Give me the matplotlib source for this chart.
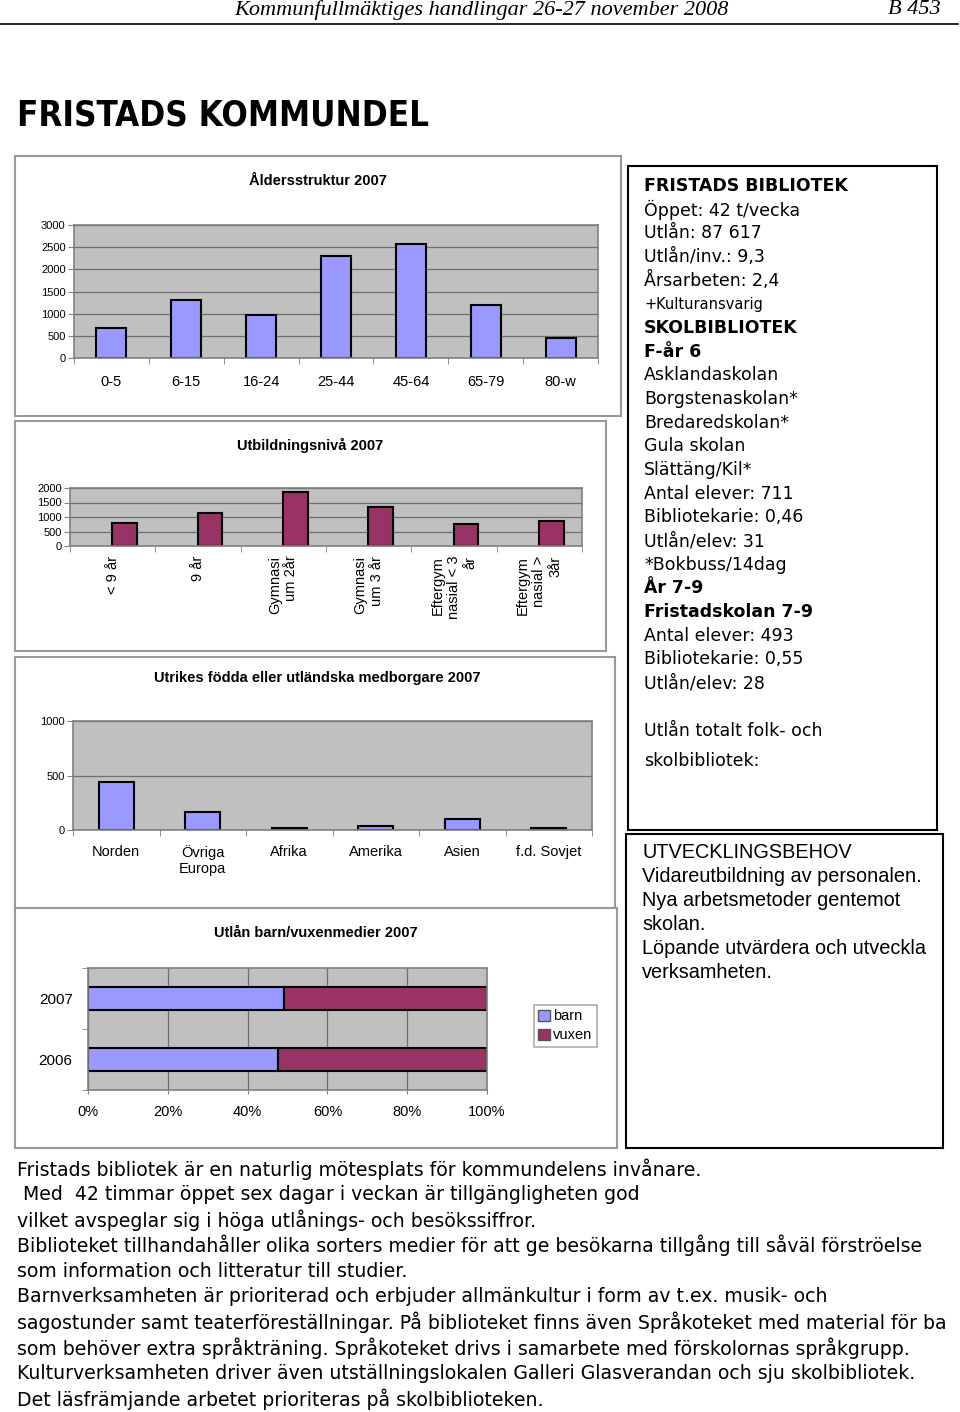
import numpy as np
import matplotlib
matplotlib.use('Agg')
import matplotlib.pyplot as plt
from matplotlib.patches import Rectangle, Patch
from matplotlib.lines import Line2D

plt.rcParams['font.family'] = ['Liberation Sans', 'DejaVu Sans']

# data
age_groups = ['0-5', '6-15', '16-24', '25-44', '45-64', '65-79', '80-w']
age_counts = [685, 1310, 970, 2310, 2580, 1200, 460]

edu_levels = ['< 9 år', '9 år', 'Gymnasi\num 2år', 'Gymnasi\num 3 år',
              'Eftergym\nnasial < 3\når', 'Eftergym\nnasial >\n3år']
edu_counts = [805, 1150, 1850, 1345, 760, 860]

regions = ['Norden', 'Övriga\nEuropa', 'Afrika', 'Amerika', 'Asien', 'f.d. Sovjet']
region_counts = [440, 165, 15, 35, 105, 20]

years = ['2006', '2007']
barn_share = [0.477, 0.492]
vuxen_share = [0.523, 0.508]

info_lines = ['FRISTADS BIBLIOTEK', 'Öppet: 42 t/vecka', 'Utlån: 87 617', 'Utlån/inv.: 9,3',
              'Årsarbeten: 2,4', '+Kulturansvarig', 'SKOLBIBLIOTEK', 'F-år 6', 'Asklandaskolan',
              'Borgstenaskolan*', 'Bredaredskolan*', 'Gula skolan', 'Slättäng/Kil*',
              'Antal elever: 711', 'Bibliotekarie: 0,46', 'Utlån/elev: 31', '*Bokbuss/14dag',
              'År 7-9', 'Fristadskolan 7-9', 'Antal elever: 493', 'Bibliotekarie: 0,55',
              'Utlån/elev: 28']
info_bold = ['FRISTADS BIBLIOTEK', 'SKOLBIBLIOTEK', 'F-år 6', 'År 7-9', 'Fristadskolan 7-9']

needs_lines = ['UTVECKLINGSBEHOV', 'Vidareutbildning av personalen.', 'Nya arbetsmetoder gentemot',
               'skolan.', 'Löpande utvärdera och utveckla', 'verksamheten.']

body_lines = [
    'Fristads bibliotek är en naturlig mötesplats för kommundelens invånare.',
    ' Med  42 timmar öppet sex dagar i veckan är tillgängligheten god',
    'vilket avspeglar sig i höga utlånings- och besökssiffror.',
    'Biblioteket tillhandahåller olika sorters medier för att ge besökarna tillgång till såväl förströelse',
    'som information och litteratur till studier.',
    'Barnverksamheten är prioriterad och erbjuder allmänkultur i form av t.ex. musik- och',
    'sagostunder samt teaterföreställningar. På biblioteket finns även Språkoteket med material för ba',
    'som behöver extra språkträning. Språkoteket drivs i samarbete med förskolornas språkgrupp.',
    'Kulturverksamheten driver även utställningslokalen Galleri Glasverandan och sju skolbibliotek.',
    'Det läsfrämjande arbetet prioriteras på skolbiblioteken.',
]

W, H = 960, 1412
BLUE = '#9999FF'
PURPLE = '#993366'
PLOTBG = '#C0C0C0'
GRID = '#6e6e6e'

fig = plt.figure(figsize=(W / 100, H / 100), dpi=100)


def fx(x):
    return x / W


def fy(y):
    return 1 - y / H


def px_axes(x0, y0, x1, y1):
    return fig.add_axes([fx(x0), fy(y1), (x1 - x0) / W, (y1 - y0) / H])


def box(x0, y0, x1, y1, color='#999999', lw=1.5):
    fig.add_artist(Rectangle((fx(x0), fy(y1)), (x1 - x0) / W, (y1 - y0) / H,
                             transform=fig.transFigure, fill=False, edgecolor=color, lw=lw))


def ftext(x, y, s, **kw):
    fig.text(fx(x), fy(y), s, **kw)


def excel_style(ax):
    ax.set_facecolor(PLOTBG)
    for sp in ax.spines.values():
        sp.set_color('#808080')
        sp.set_linewidth(1.2)
    ax.set_axisbelow(True)


# header
ftext(481, 10, 'Kommunfullmäktiges handlingar 26-27 november 2008', family='Liberation Serif',
      style='italic', fontsize=16, ha='center', va='center')
ftext(941, 10, 'B 453', family='Liberation Serif', style='italic', fontsize=16, ha='right', va='center')
fig.add_artist(Line2D([0, 958 / W], [fy(23.5), fy(23.5)], transform=fig.transFigure, color='black', lw=1.2))

ftext(17, 115, 'FRISTADS KOMMUNDEL', family=['DejaVu Sans'], stretch='condensed',
      weight='heavy', fontsize=25, ha='left', va='center')

# chart 1: age structure
box(15, 156, 621, 416)
ftext(318, 181, 'Åldersstruktur 2007', fontsize=10.5, weight='bold', ha='center', va='center')
ax1 = px_axes(74, 225, 598, 358)
excel_style(ax1)
x = np.arange(len(age_groups))
ax1.bar(x, age_counts, width=0.4, color=BLUE, edgecolor='black', lw=1.5)
ax1.set_xlim(-0.5, len(age_groups) - 0.5)
ax1.set_ylim(0, 3000)
ax1.set_yticks(np.arange(0, 3001, 500))
ax1.yaxis.grid(True, color=GRID, lw=0.9)
ax1.set_xticks(x)
ax1.set_xticklabels(age_groups, fontsize=10.5)
ax1.set_xticks(np.arange(-0.5, len(age_groups), 1), minor=True)
ax1.tick_params(axis='x', which='major', length=0, pad=12)
ax1.tick_params(axis='x', which='minor', length=4, color='#808080')
ax1.tick_params(axis='y', labelsize=8, length=4, color='#808080', pad=2)

# chart 2: education
box(15, 421, 606, 651)
ftext(310, 445, 'Utbildningsnivå 2007', fontsize=10.5, weight='bold', ha='center', va='center')
ax2 = px_axes(70, 488, 582, 546)
excel_style(ax2)
x = np.arange(len(edu_levels))
ax2.bar(x + 0.14, edu_counts, width=0.29, color=PURPLE, edgecolor='black', lw=1.5)
ax2.set_xlim(-0.5, len(edu_levels) - 0.5)
ax2.set_ylim(0, 2000)
ax2.set_yticks(np.arange(0, 2001, 500))
ax2.yaxis.grid(True, color=GRID, lw=0.9)
ax2.set_xticks(x)
ax2.set_xticklabels(edu_levels, fontsize=10.5, rotation=90, multialignment='right')
ax2.set_xticks(np.arange(-0.5, len(edu_levels), 1), minor=True)
ax2.tick_params(axis='x', which='major', length=0, pad=7)
ax2.tick_params(axis='x', which='minor', length=4, color='#808080')
ax2.tick_params(axis='y', labelsize=8, length=4, color='#808080', pad=2)

# chart 3: foreign born
box(15, 657, 615, 908)
ftext(317, 678, 'Utrikes födda eller utländska medborgare 2007', fontsize=10.5, weight='bold',
      ha='center', va='center')
ax3 = px_axes(73, 721, 592, 830)
excel_style(ax3)
x = np.arange(len(regions))
ax3.bar(x, region_counts, width=0.4, color=BLUE, edgecolor='black', lw=1.5)
ax3.set_xlim(-0.5, len(regions) - 0.5)
ax3.set_ylim(0, 1000)
ax3.set_yticks([0, 500, 1000])
ax3.yaxis.grid(True, color=GRID, lw=0.9)
ax3.set_xticks(x)
ax3.set_xticklabels(regions, fontsize=10.5)
ax3.set_xticks(np.arange(-0.5, len(regions), 1), minor=True)
ax3.tick_params(axis='x', which='major', length=0, pad=11)
ax3.tick_params(axis='x', which='minor', length=4, color='#808080')
ax3.tick_params(axis='y', labelsize=8, length=4, color='#808080', pad=2)

# chart 4: lending children / adults
box(15, 908, 617, 1148)
ftext(316, 933, 'Utlån barn/vuxenmedier 2007', fontsize=10.5, weight='bold', ha='center', va='center')
ax4 = px_axes(88, 968, 487, 1090)
excel_style(ax4)
y = np.arange(len(years))
ax4.barh(y, barn_share, height=0.38, color=BLUE, edgecolor='black', lw=1.5, label='barn')
ax4.barh(y, vuxen_share, left=barn_share, height=0.38, color=PURPLE, edgecolor='black', lw=1.5,
         label='vuxen')
ax4.set_xlim(0, 1)
ax4.set_ylim(-0.5, len(years) - 0.5)
ax4.set_xticks(np.arange(0, 1.01, 0.2))
ax4.set_xticklabels(['0%', '20%', '40%', '60%', '80%', '100%'], fontsize=10.5)
ax4.xaxis.grid(True, color=GRID, lw=0.9)
ax4.set_yticks(y)
ax4.set_yticklabels(years, fontsize=11)
ax4.set_yticks(np.arange(-0.5, len(years), 1), minor=True)
ax4.tick_params(axis='y', which='major', length=0, pad=11)
ax4.tick_params(axis='y', which='minor', length=4, color='#808080')
ax4.tick_params(axis='x', length=3, color='#808080', pad=8)
leg = ax4.legend(handles=[Patch(facecolor=BLUE, edgecolor='#555555', label='barn'),
                          Patch(facecolor=PURPLE, edgecolor='#555555', label='vuxen')],
                 loc='upper left', bbox_to_anchor=(fx(534), fy(1005)), bbox_transform=fig.transFigure,
                 fontsize=10.5, frameon=True, fancybox=False, handlelength=0.8, handleheight=0.8,
                 handletextpad=0.2, borderpad=0.3, labelspacing=0.35, borderaxespad=0)
leg.get_frame().set_edgecolor('#999999')
leg.get_frame().set_linewidth(1.2)

# right info box
box(628, 166, 937, 830, color='black', lw=1.5)
for i, line in enumerate(info_lines):
    bold = line in info_bold
    size = 10.5 if line.startswith('+') else 12.5
    ftext(644, 186 + i * 23.67, line, family=['DejaVu Sans'], fontsize=size,
          weight='bold' if bold else 'normal', ha='left', va='center')
ftext(644, 731, 'Utlån totalt folk- och', family=['DejaVu Sans'], fontsize=12.5, ha='left', va='center')
ftext(644, 761, 'skolbibliotek:', family=['DejaVu Sans'], fontsize=12.5, ha='left', va='center')

# development needs box
box(626, 834, 943, 1148, color='black', lw=1.5)
for i, line in enumerate(needs_lines):
    ftext(642, 853 + i * 23.8, line, fontsize=14.3, ha='left', va='center')

# body text
for i, line in enumerate(body_lines):
    ftext(17, 1169 + i * 25.55, line, family=['DejaVu Sans'], fontsize=13.6, ha='left', va='center')

fig.savefig('out.png', dpi=100)
